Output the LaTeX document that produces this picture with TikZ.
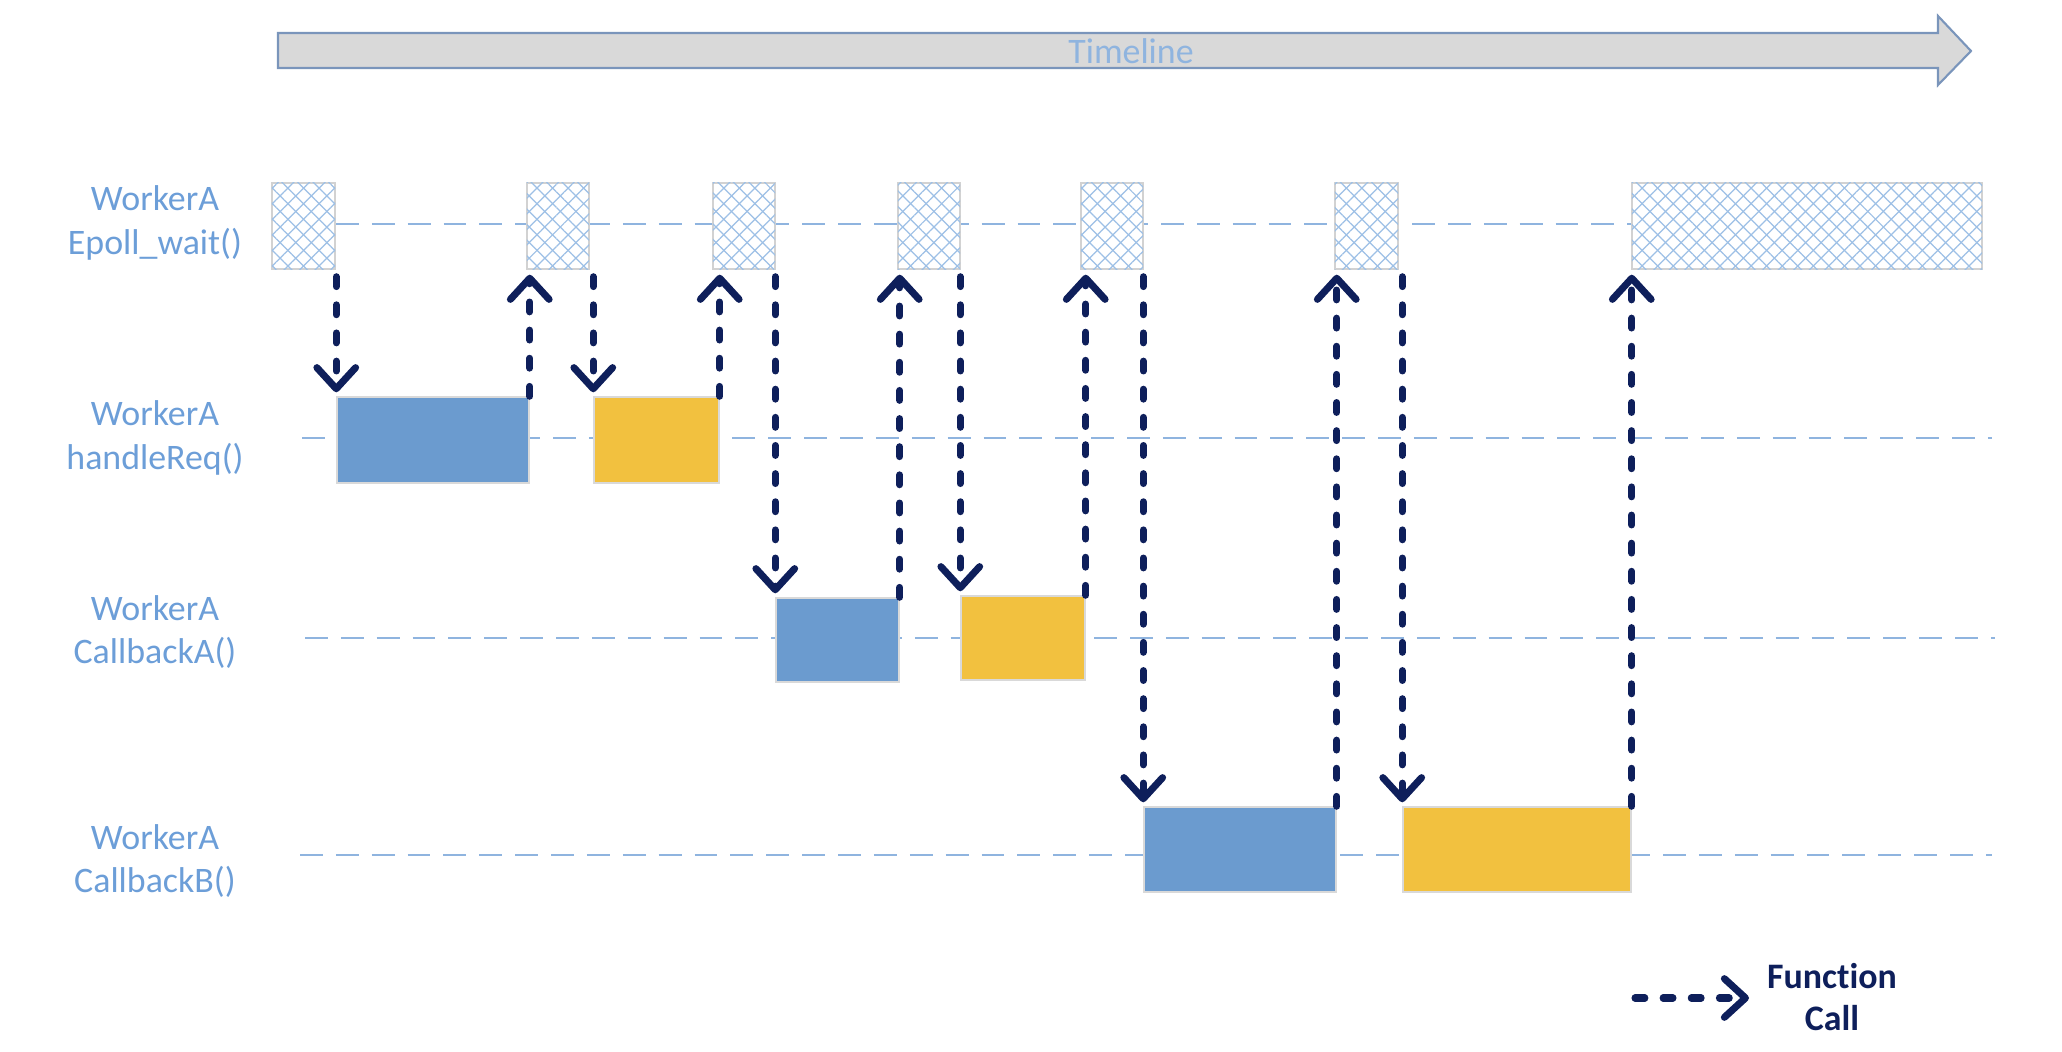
\documentclass[tikz,border=0pt]{standalone}
\usepackage{fontspec}
\setmainfont{Carlito}[Ligatures={NoCommon}]
\usepackage{xcolor}
\usepackage{tikz}
\usetikzlibrary{arrows.meta,patterns.meta,positioning}

\definecolor{lineblue}{HTML}{8FB4DF}
\definecolor{labelblue}{HTML}{6C9ED8}
\definecolor{hatchblue}{HTML}{9DC0E6}
\definecolor{boxblue}{HTML}{6B9BCF}
\definecolor{boxyellow}{HTML}{F2C13F}
\definecolor{callnavy}{HTML}{0E1F5B}
\definecolor{arrowedge}{HTML}{7A95BB}

\begin{document}
\begin{tikzpicture}[x=0.01cm, y=-0.01cm,
    every node/.style={font=\fontsize{10.2}{12.4}\selectfont},
    lane/.style={draw=lineblue, line width=0.7pt, dash pattern=on 6.5pt off 3.7pt},
    waitbox/.style={rectangle, draw=gray!35, line width=0.4pt, fill=white, minimum height=0.86cm, inner sep=0pt,
        postaction={pattern={Lines[angle=45, distance=0.11cm, line width=0.35pt]}, pattern color=hatchblue},
        postaction={pattern={Lines[angle=-45, distance=0.11cm, line width=0.35pt]}, pattern color=hatchblue}},
    funcbox/.style={rectangle, draw=gray!30, line width=0.4pt, minimum height=0.86cm, inner sep=0pt},
    lanelabel/.style={align=center, text=labelblue},
    call/.style={draw=callnavy, line width=2pt, line cap=round, dash pattern=on 2.8pt off 5.2pt,
        -{Straight Barb[length=6pt, width=11pt, line cap=round, line join=round]}},
    down/.style={call, shorten <=0.07cm, shorten >=0.04cm},
    up/.style={call, shorten >=0.05cm}]
    \useasboundingbox (0,0) rectangle (2062,1052);

    % Timeline
    \draw[draw=arrowedge, line width=0.6pt, fill=gray!30] (278,33) -- (1938,33) -- (1938,16) -- (1971,51)
        -- (1938,85) -- (1938,68) -- (278,68) -- cycle;
    \node (timeline) at (1131,51) [text=lineblue] {Timeline};

    % Lanes
    \node (epoll) at (155,223) [lanelabel] {WorkerA\\Epoll\_wait()};
    \node (handle) at (155,438) [lanelabel] {WorkerA\\handleReq()};
    \node (cba) at (155,632) [lanelabel] {WorkerA\\CallbackA()};
    \node (cbb) at (155,861) [lanelabel] {WorkerA\\CallbackB()};
    \draw[lane] (336,224) -- (1632,224);
    \draw[lane] (302,438) -- (1992,438);
    \draw[lane] (305,638) -- (1995,638);
    \draw[lane] (300,855) -- (1992,855);

    % Epoll_wait boxes
    \node (ep1) at (303.5,226) [waitbox, minimum width=0.63cm] {};
    \node (ep2) at (558,226) [waitbox, minimum width=0.62cm] {};
    \node (ep3) at (744,226) [waitbox, minimum width=0.62cm] {};
    \node (ep4) at (929,226) [waitbox, minimum width=0.62cm] {};
    \node (ep5) at (1112,226) [waitbox, minimum width=0.62cm] {};
    \node (ep6) at (1366.5,226) [waitbox, minimum width=0.63cm] {};
    \node (ep7) at (1807,226) [waitbox, minimum width=3.5cm] {};

    % Function boxes
    \node (hr1) at (433,440) [funcbox, fill=boxblue, minimum width=1.92cm] {};
    \node (hr2) at (656.5,440) [funcbox, fill=boxyellow, minimum width=1.25cm] {};
    \node (ca1) at (837.5,640) [funcbox, fill=boxblue, minimum width=1.23cm, minimum height=0.84cm] {};
    \node (ca2) at (1023,638) [funcbox, fill=boxyellow, minimum width=1.24cm, minimum height=0.84cm] {};
    \node (cb1) at (1240,849.5) [funcbox, fill=boxblue, minimum width=1.92cm, minimum height=0.85cm] {};
    \node (cb2) at (1517,849.5) [funcbox, fill=boxyellow, minimum width=2.28cm, minimum height=0.85cm] {};

    % Calls
    \draw[down] (ep1.south -| hr1.north west) -- (hr1.north west);
    \draw[up] (hr1.north east) -- (hr1.north east |- ep2.south);
    \draw[down] (ep2.south -| hr2.north west) -- (hr2.north west);
    \draw[up] (hr2.north east) -- (hr2.north east |- ep3.south);
    \draw[down] (ep3.south -| ca1.north west) -- (ca1.north west);
    \draw[up] (ca1.north east) -- (ca1.north east |- ep4.south);
    \draw[down] (ep4.south -| ca2.north west) -- (ca2.north west);
    \draw[up] (ca2.north east) -- (ca2.north east |- ep5.south);
    \draw[down] (ep5.south -| cb1.north west) -- (cb1.north west);
    \draw[up] (cb1.north east) -- (cb1.north east |- ep6.south);
    \draw[down] (ep6.south -| cb2.north west) -- (cb2.north west);
    \draw[up] (cb2.north east) -- (cb2.north east |- ep7.south);

    % Legend
    \coordinate (legstart) at (1635,998);
    \coordinate (legend) at (1749,998);
    \node (legtext) at (1832,997) [align=center, text=callnavy, font=\fontsize{10.2}{12}\selectfont\bfseries] {Function\\Call};
    \draw[call] (legstart) -- (legend);
\end{tikzpicture}
\end{document}
